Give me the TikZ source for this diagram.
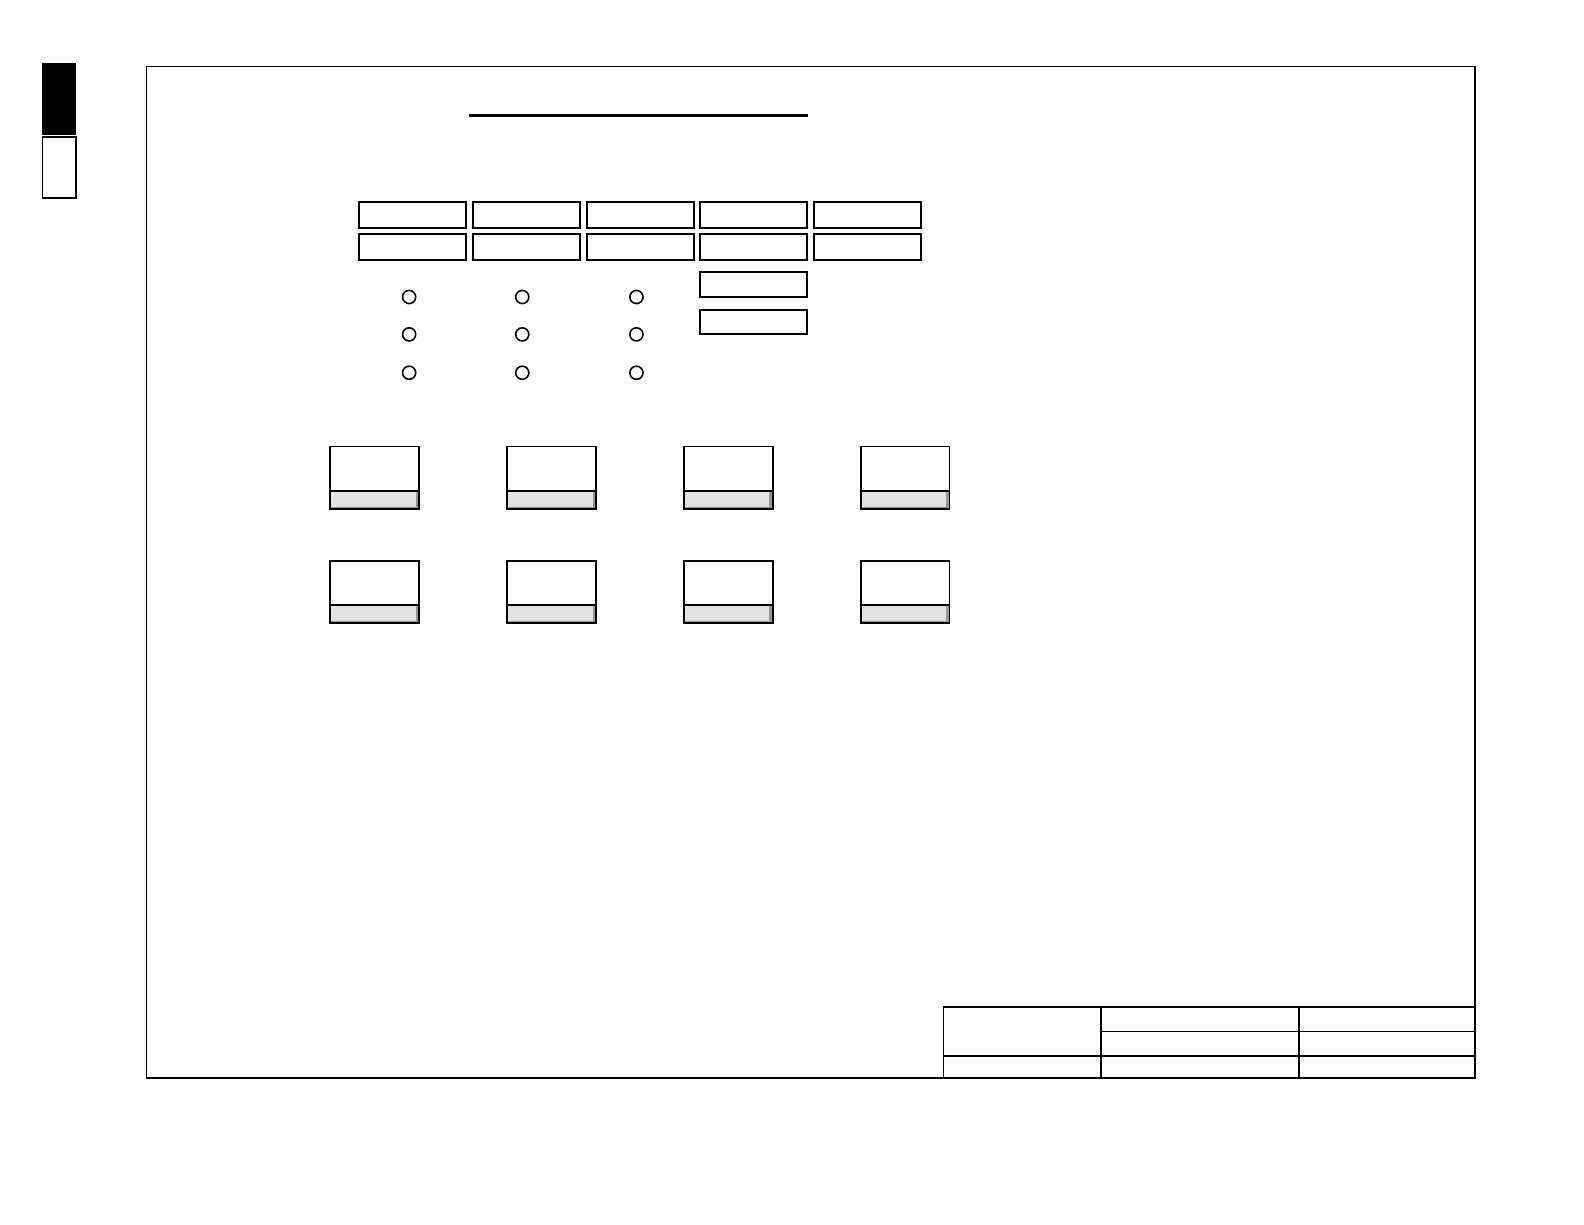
\documentclass[tikz,border=0pt]{standalone}
\usepackage{tikz}
\usepackage{xcolor}
\definecolor{capgray}{RGB}{226,226,226}
\definecolor{shadegray}{RGB}{150,150,150}
\tikzset{
  cell/.style={draw=black,line width=0.5pt},
  opt/.style={draw=black,line width=0.45pt},
}

\begin{document}
\begin{tikzpicture}[x=0.01cm,y=-0.01cm]
\useasboundingbox (0,0) rectangle (1568,1212);

% page marker
\fill[black] (42,62) rectangle (75,134);
\draw[cell] (42,136) rectangle (75,196);

% sheet frame
\draw[line width=0.4pt] (145,66) rectangle (1460,1067);

% title rule
\draw[line width=0.8pt] (464,114) -- (800,114);

% header fields: two rows of five
\foreach \x in {355,468,581,693,806}{
  \draw[cell] (\x,200) rectangle ++(106,26);
  \draw[cell] (\x,232) rectangle ++(106,25);
}
\draw[cell] (693,269) rectangle ++(106,25);
\draw[cell] (693,307) rectangle ++(106,24);

% option circles
\foreach \x in {405,517,630}{
  \foreach \y in {294,331,369}{
    \draw[opt] (\x,\y) circle (6.5);
  }
}

% tiles with grey caption strip
\foreach \x in {327,502,677,852}{
  \foreach \y in {442,555}{
    \fill[capgray] (\x,\y+44) rectangle (\x+88,\y+62);
    \draw[shadegray,line width=0.8pt] (\x+86,\y+45) -- (\x+86,\y+61) -- (\x+1,\y+61);
    \draw[cell] (\x,\y) rectangle (\x+88,\y+62);
    \draw[cell] (\x,\y+44) -- (\x+88,\y+44);
  }
}

% title block
\draw[cell] (934,1067) -- (934,997) -- (1460,997);
\draw[cell] (1090,997) -- (1090,1067);
\draw[cell] (1286,997) -- (1286,1067);
\draw[cell] (1090,1021) -- (1460,1021);
\draw[cell] (934,1045) -- (1460,1045);

\end{tikzpicture}
\end{document}
